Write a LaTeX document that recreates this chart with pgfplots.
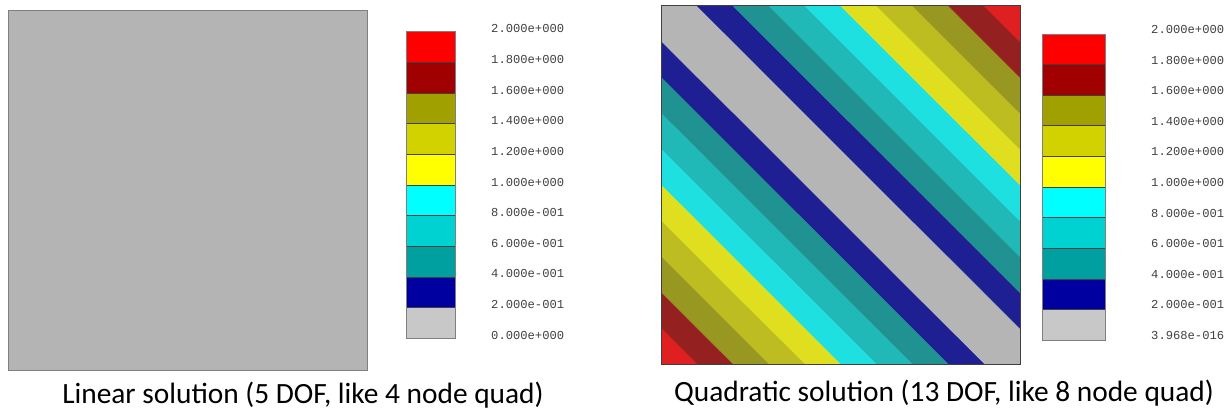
\documentclass[border=0pt]{standalone}
\usepackage{pgfplots}
\pgfplotsset{compat=1.18}
\usepackage{fontspec}
\setmainfont{Carlito}
\newfontfamily\monof{Liberation Mono}

% contour fill colours of the quadratic field
\definecolor{s0}{HTML}{B5B5B5}
\definecolor{s1}{HTML}{1F1F94}
\definecolor{s2}{HTML}{209292}
\definecolor{s3}{HTML}{21B8B8}
\definecolor{s4}{HTML}{1FE0E0}
\definecolor{s5}{HTML}{DFDF1F}
\definecolor{s6}{HTML}{BDBD21}
\definecolor{s7}{HTML}{979722}
\definecolor{s8}{HTML}{952020}
\definecolor{s9}{HTML}{E02020}
% legend (colour bar) colours
\definecolor{c0}{HTML}{C8C8C8}
\definecolor{c1}{HTML}{0000A0}
\definecolor{c2}{HTML}{00A0A0}
\definecolor{c3}{HTML}{00D2D2}
\definecolor{c4}{HTML}{00FFFF}
\definecolor{c5}{HTML}{FFFF00}
\definecolor{c6}{HTML}{D2D200}
\definecolor{c7}{HTML}{A0A000}
\definecolor{c8}{HTML}{A00000}
\definecolor{c9}{HTML}{FF0000}
\definecolor{linfill}{HTML}{B4B4B4}
\definecolor{framegray}{HTML}{7F7F7F}
\definecolor{labelgray}{HTML}{404040}

\pgfplotsset{
  field/.style={
    scale only axis, axis on top,
    xmin=0, xmax=1, ymin=0, ymax=1,
    xtick=\empty, ytick=\empty,
  },
  cbar/.style={
    scale only axis, axis on top,
    xmin=0, xmax=1, ymin=0, ymax=2,
    xtick=\empty,
    ytick={0,0.2,0.4,0.6,0.8,1,1.2,1.4,1.6,1.8,2},
    yticklabel pos=right,
    major tick length=0pt,
    axis line style={framegray, line width=0.8bp},
    yticklabel style={font=\monof\fontsize{12.2}{14}\selectfont,
      text=labelgray, anchor=west, inner sep=0pt},
  },
  band/.style={fill=#1, draw=#1, line width=0.3bp},
  cb/.style={fill=#1, draw=black!75, line width=0.6bp},
}

\begin{document}
\begin{tikzpicture}[x=1bp, y=1bp]
\path[use as bounding box] (0,0) rectangle (1231,412);

% ---------- linear solution ----------
\begin{axis}[field, at={(8bp,42bp)}, anchor=south west,
  width=359bp, height=359bp,
  axis line style={framegray, line width=1bp}]
  \addplot[band=linfill] coordinates {(0,0) (1,0) (1,1) (0,1)} -- cycle;
\end{axis}

\begin{axis}[cbar, at={(406.3bp,73.7bp)}, anchor=south west,
  width=49bp, height=306.6bp,
  yticklabel style={xshift=35.7bp, yshift=3bp},
  yticklabels={0.000e+000,2.000e-001,4.000e-001,6.000e-001,8.000e-001,
    1.000e+000,1.200e+000,1.400e+000,1.600e+000,1.800e+000,2.000e+000}]
  \addplot[cb=c0] coordinates {(0,0)   (1,0)   (1,0.2) (0,0.2)} -- cycle;
  \addplot[cb=c1] coordinates {(0,0.2) (1,0.2) (1,0.4) (0,0.4)} -- cycle;
  \addplot[cb=c2] coordinates {(0,0.4) (1,0.4) (1,0.6) (0,0.6)} -- cycle;
  \addplot[cb=c3] coordinates {(0,0.6) (1,0.6) (1,0.8) (0,0.8)} -- cycle;
  \addplot[cb=c4] coordinates {(0,0.8) (1,0.8) (1,1.0) (0,1.0)} -- cycle;
  \addplot[cb=c5] coordinates {(0,1.0) (1,1.0) (1,1.2) (0,1.2)} -- cycle;
  \addplot[cb=c6] coordinates {(0,1.2) (1,1.2) (1,1.4) (0,1.4)} -- cycle;
  \addplot[cb=c7] coordinates {(0,1.4) (1,1.4) (1,1.6) (0,1.6)} -- cycle;
  \addplot[cb=c8] coordinates {(0,1.6) (1,1.6) (1,1.8) (0,1.8)} -- cycle;
  \addplot[cb=c9] coordinates {(0,1.8) (1,1.8) (1,2.0) (0,2.0)} -- cycle;
\end{axis}

\node[anchor=base, font=\fontsize{29.5}{34}\selectfont] at (303,8.7)
  {Linear solution (5 DOF, like 4 node quad)};

% ---------- quadratic solution: bands of 0.2 ----------
\begin{axis}[field, at={(661bp,47.7bp)}, anchor=south west,
  width=359bp, height=358.6bp,
  axis line style={labelgray, line width=1bp}]
  \addplot[band=s0] coordinates {(0,1) (0.1,1) (1,0.1) (1,0) (0.9,0) (0,0.9)} -- cycle;
  \addplot[band=s1] coordinates {(0.1,1) (0.2,1) (1,0.2) (1,0.1)} -- cycle;
  \addplot[band=s1] coordinates {(0,0.9) (0,0.8) (0.8,0) (0.9,0)} -- cycle;
  \addplot[band=s2] coordinates {(0.2,1) (0.3,1) (1,0.3) (1,0.2)} -- cycle;
  \addplot[band=s2] coordinates {(0,0.8) (0,0.7) (0.7,0) (0.8,0)} -- cycle;
  \addplot[band=s3] coordinates {(0.3,1) (0.4,1) (1,0.4) (1,0.3)} -- cycle;
  \addplot[band=s3] coordinates {(0,0.7) (0,0.6) (0.6,0) (0.7,0)} -- cycle;
  \addplot[band=s4] coordinates {(0.4,1) (0.5,1) (1,0.5) (1,0.4)} -- cycle;
  \addplot[band=s4] coordinates {(0,0.6) (0,0.5) (0.5,0) (0.6,0)} -- cycle;
  \addplot[band=s5] coordinates {(0.5,1) (0.6,1) (1,0.6) (1,0.5)} -- cycle;
  \addplot[band=s5] coordinates {(0,0.5) (0,0.4) (0.4,0) (0.5,0)} -- cycle;
  \addplot[band=s6] coordinates {(0.6,1) (0.7,1) (1,0.7) (1,0.6)} -- cycle;
  \addplot[band=s6] coordinates {(0,0.4) (0,0.3) (0.3,0) (0.4,0)} -- cycle;
  \addplot[band=s7] coordinates {(0.7,1) (0.8,1) (1,0.8) (1,0.7)} -- cycle;
  \addplot[band=s7] coordinates {(0,0.3) (0,0.2) (0.2,0) (0.3,0)} -- cycle;
  \addplot[band=s8] coordinates {(0.8,1) (0.9,1) (1,0.9) (1,0.8)} -- cycle;
  \addplot[band=s8] coordinates {(0,0.2) (0,0.1) (0.1,0) (0.2,0)} -- cycle;
  \addplot[band=s9] coordinates {(0.9,1) (1,1) (1,0.9)} -- cycle;
  \addplot[band=s9] coordinates {(0,0.1) (0,0) (0.1,0)} -- cycle;
\end{axis}

\begin{axis}[cbar, at={(1042.7bp,72bp)}, anchor=south west,
  width=62.6bp, height=306bp,
  yticklabel style={xshift=45.7bp, yshift=4.5bp},
  yticklabels={3.968e-016,2.000e-001,4.000e-001,6.000e-001,8.000e-001,
    1.000e+000,1.200e+000,1.400e+000,1.600e+000,1.800e+000,2.000e+000}]
  \addplot[cb=c0] coordinates {(0,0)   (1,0)   (1,0.2) (0,0.2)} -- cycle;
  \addplot[cb=c1] coordinates {(0,0.2) (1,0.2) (1,0.4) (0,0.4)} -- cycle;
  \addplot[cb=c2] coordinates {(0,0.4) (1,0.4) (1,0.6) (0,0.6)} -- cycle;
  \addplot[cb=c3] coordinates {(0,0.6) (1,0.6) (1,0.8) (0,0.8)} -- cycle;
  \addplot[cb=c4] coordinates {(0,0.8) (1,0.8) (1,1.0) (0,1.0)} -- cycle;
  \addplot[cb=c5] coordinates {(0,1.0) (1,1.0) (1,1.2) (0,1.2)} -- cycle;
  \addplot[cb=c6] coordinates {(0,1.2) (1,1.2) (1,1.4) (0,1.4)} -- cycle;
  \addplot[cb=c7] coordinates {(0,1.4) (1,1.4) (1,1.6) (0,1.6)} -- cycle;
  \addplot[cb=c8] coordinates {(0,1.6) (1,1.6) (1,1.8) (0,1.8)} -- cycle;
  \addplot[cb=c9] coordinates {(0,1.8) (1,1.8) (1,2.0) (0,2.0)} -- cycle;
\end{axis}

\node[anchor=base, font=\fontsize{29.5}{34}\selectfont] at (944,11)
  {Quadratic solution (13 DOF, like 8 node quad)};
\end{tikzpicture}
\end{document}
